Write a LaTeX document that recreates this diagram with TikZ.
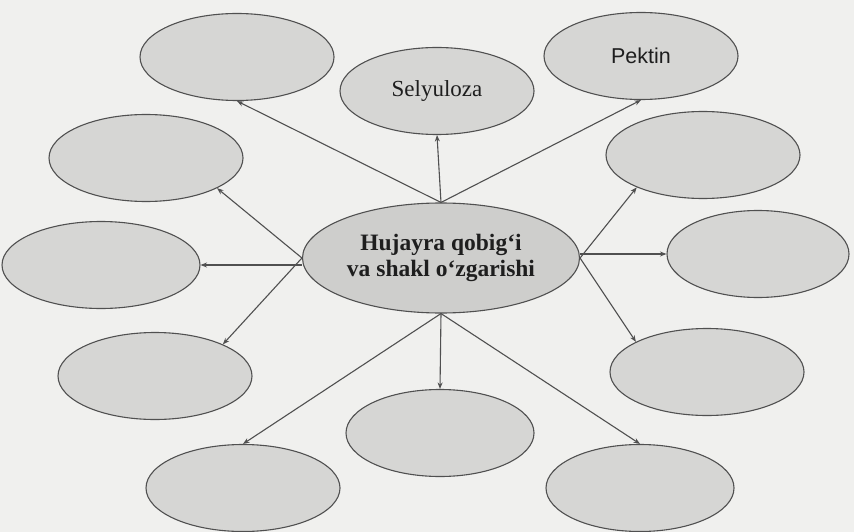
\documentclass[tikz,border=0pt]{standalone}
\usepackage{fontspec}
\setmainfont{Liberation Serif}
\newfontfamily\pektinfont{Liberation Sans}
\usetikzlibrary{arrows.meta,shapes.geometric}
\definecolor{paper}{RGB}{240,240,238}
\definecolor{ovalfill}{RGB}{214,214,212}
\definecolor{centerfill}{RGB}{206,206,204}
\definecolor{inkline}{RGB}{80,80,80}
\definecolor{inktext}{RGB}{30,30,30}
\begin{document}
\begin{tikzpicture}[x=1pt,y=-1pt,
  oval/.style={ellipse,draw=inkline,line width=1.1pt,fill=ovalfill,inner sep=0pt,
    minimum width=194pt,minimum height=87pt,text=inktext},
  link/.style={draw=inkline,line width=1.1pt,-{Stealth[length=6.5pt,width=5pt]}}]
\fill[paper] (0,0) rectangle (854,532);
\useasboundingbox (0,0) rectangle (854,532);

% centre
\node[oval,fill=centerfill,minimum width=277pt,minimum height=110pt,align=center,
  font=\fontsize{23.5}{26}\selectfont\bfseries] (c) at (441,258)
  {Hujayra qobig‘i\\va shakl o‘zgarishi};

% outer ovals
\node[oval,font=\fontsize{23}{26}\selectfont] (sel) at (437,91) {Selyuloza};
\node[oval,font=\pektinfont\fontsize{21.5}{24}\selectfont] (pek) at (641,56) {Pektin};
\node[oval] (tl) at (237,57) {};
\node[oval] (l2) at (146,158) {};
\node[oval] (r2) at (703,155) {};
\node[oval,minimum width=198pt] (l3) at (101,265) {};
\node[oval,minimum width=182pt] (r3) at (758,254) {};
\node[oval] (l4) at (155,376) {};
\node[oval] (r4) at (707,372) {};
\node[oval,minimum width=188pt] (bm) at (440,433) {};
\node[oval] (bl) at (243,488) {};
\node[oval,minimum width=188pt] (br) at (640,488) {};

% connectors
\draw[link] (c.north) -- (tl.south);
\draw[link] (c.north) -- (sel.south);
\draw[link] (c.north) -- (pek.south);
\draw[link] (c.west) -- (l2.-23);
\draw[link] (c.west |- l3.east) -- (l3.east);
\draw[link] (c.west) -- (l4.25);
\draw[link] (c.south) -- (bl.north);
\draw[link] (c.south) -- (bm.north);
\draw[link] (c.south) -- (br.north);
\draw[link] (c.east) -- (r2.206);
\draw[link] (c.east |- r3.west) -- (r3.west);
\draw[link] (c.east) -- (r4.157);
\end{tikzpicture}
\end{document}
